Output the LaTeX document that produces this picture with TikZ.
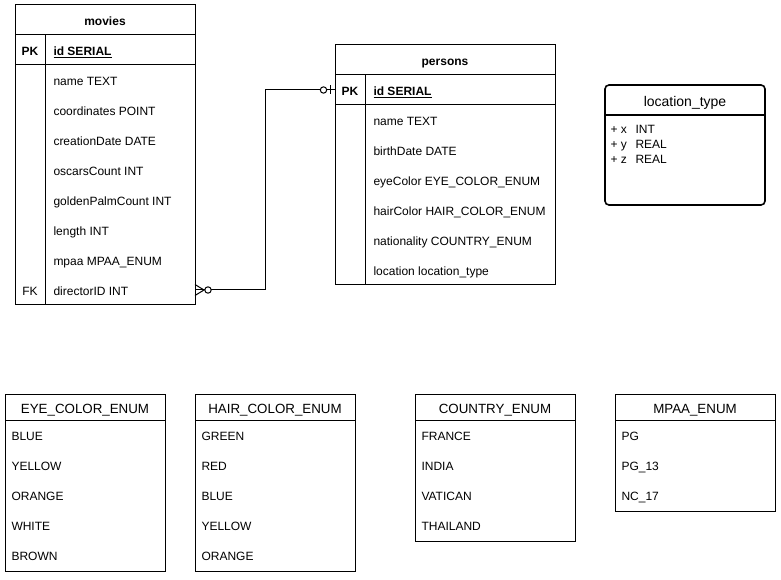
\documentclass[tikz,border=0pt]{standalone}
\usepackage{fontspec}
\setmainfont{Liberation Sans}
\usepackage{tikz}

\tikzset{
  fld/.style={anchor=west, inner sep=0pt, yshift=-0.6pt, text height=6.4pt, text depth=0pt, font=\fontsize{9}{10}\selectfont},
  key/.style={inner sep=0pt, yshift=-0.6pt, text height=6.4pt, text depth=0pt, font=\bfseries\fontsize{9}{10}\selectfont},
  enumtitle/.style={inner sep=0pt, yshift=-0.6pt, text height=7.2pt, text depth=0pt, font=\fontsize{10}{12}\selectfont},
}

\begin{document}
\begin{tikzpicture}[x=0.75pt, y=-0.75pt, line width=0.75pt]
        \useasboundingbox (0,0) rectangle (781,580);

         % movies
        \draw (15,5) rectangle (195,305);
        \draw (15,35) -- (195,35);
        \draw (15,65) -- (195,65);
        \draw (45,35) -- (45,305);
        \node[key] (movies) at (105,20) {movies};
        \node[key] (moviesPK) at (30,50) {PK};
        \node[fld, font=\bfseries\fontsize{9}{10}\selectfont] (moviesId) at (53,50) {\underline{id SERIAL}};
        \foreach \f [count=\i] in {name TEXT, coordinates POINT, creationDate DATE, oscarsCount INT,
            goldenPalmCount INT, length INT, mpaa MPAA\_ENUM, directorID INT}
          \node[fld] (movies\i) at (53,50+30*\i) {\f};
        \node[key, font=\fontsize{9}{10}\selectfont] (moviesFK) at (30,290) {FK};

         % persons
        \draw (335,45) rectangle (555,285);
        \draw (335,75) -- (555,75);
        \draw (335,105) -- (555,105);
        \draw (365,75) -- (365,285);
        \node[key] (persons) at (445,60) {persons};
        \node[key] (personsPK) at (350,90) {PK};
        \node[fld, font=\bfseries\fontsize{9}{10}\selectfont] (personsId) at (373,90) {\underline{id SERIAL}};
        \foreach \f [count=\i] in {name TEXT, birthDate DATE, eyeColor EYE\_COLOR\_ENUM,
            hairColor HAIR\_COLOR\_ENUM, nationality COUNTRY\_ENUM, location location\_type}
          \node[fld] (persons\i) at (373,90+30*\i) {\f};

         % directorID -> id
        \coordinate (fkEnd) at (195,290);
        \coordinate (pkEnd) at (335,90);
        \draw (fkEnd) -- (265,290) -- (265,90) -- (pkEnd);
        \draw (195,284.5) -- (204,290) -- (195,295.5);
        \draw[fill=white] (208,290) circle (3.2);
        \draw (330,85.5) -- (330,94.5);
        \draw[fill=white] (323.5,90) circle (3.2);

         % location_type
        \draw[rounded corners=3, line width=1.2pt] (605,85) rectangle (765,205);
        \draw[line width=1.2pt] (605,115) -- (765,115);
        \node[enumtitle, font=\fontsize{10.5}{12}\selectfont] (location) at (685,101) {location\_type};
        \foreach \v/\t [count=\i] in {x/INT, y/REAL, z/REAL} {
          \node[fld] (locVar\i) at (610,113+15*\i) {+ \v};
          \node[fld] (locType\i) at (635,113+15*\i) {\t};
        }

         % EYE_COLOR_ENUM
        \draw (5,395) rectangle (165,571);
        \draw (5,421) -- (165,421);
        \node[enumtitle] (eye) at (85,408) {EYE\_COLOR\_ENUM};
        \foreach \v [count=\i] in {BLUE, YELLOW, ORANGE, WHITE, BROWN}
          \node[fld] (eye\i) at (11,405+30*\i) {\v};

         % HAIR_COLOR_ENUM
        \draw (195,395) rectangle (355,571);
        \draw (195,421) -- (355,421);
        \node[enumtitle] (hair) at (275,408) {HAIR\_COLOR\_ENUM};
        \foreach \v [count=\i] in {GREEN, RED, BLUE, YELLOW, ORANGE}
          \node[fld] (hair\i) at (201,405+30*\i) {\v};

         % COUNTRY_ENUM
        \draw (415,395) rectangle (575,541);
        \draw (415,421) -- (575,421);
        \node[enumtitle] (country) at (495,408) {COUNTRY\_ENUM};
        \foreach \v [count=\i] in {FRANCE, INDIA, VATICAN, THAILAND}
          \node[fld] (country\i) at (421,405+30*\i) {\v};

         % MPAA_ENUM
        \draw (615,395) rectangle (775,511);
        \draw (615,421) -- (775,421);
        \node[enumtitle] (mpaa) at (695,408) {MPAA\_ENUM};
        \foreach \v [count=\i] in {PG, PG\_13, NC\_17}
          \node[fld] (mpaa\i) at (621,405+30*\i) {\v};
      \end{tikzpicture}
\end{document}
